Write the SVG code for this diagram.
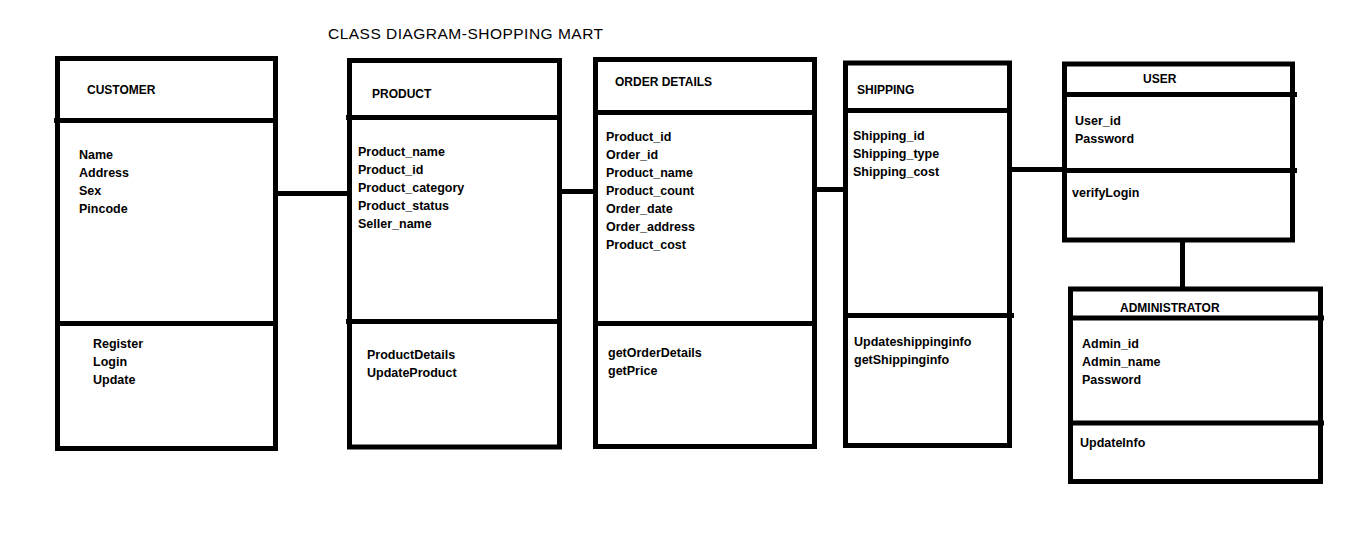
<svg xmlns="http://www.w3.org/2000/svg" width="1360" height="550" viewBox="0 0 1360 550">
<style>
.box{fill:#fff;stroke:#000;stroke-width:5}
.div{stroke:#000;stroke-width:5}
.con{stroke:#000;stroke-width:5;fill:none}
.nm{font-family:"Liberation Sans",Arial,sans-serif;font-weight:bold;font-size:12px;fill:#000}
.tx{font-family:"Liberation Sans",Arial,sans-serif;font-weight:bold;font-size:12.5px;fill:#000}
.ttl{font-family:"Liberation Sans",Arial,sans-serif;font-size:15.5px;fill:#000}
</style>
<rect width="1360" height="550" fill="#fff"/>
<text class="ttl" x="328" y="39" textLength="275">CLASS DIAGRAM-SHOPPING MART</text>

<g id="connectors">
<line class="con" x1="278" y1="193.5" x2="347" y2="193.5"/>
<line class="con" x1="562" y1="191.5" x2="595" y2="191.5"/>
<line class="con" x1="817" y1="189.5" x2="846" y2="189.5"/>
<line class="con" x1="1012" y1="169.5" x2="1072" y2="169.5"/>
<line class="con" x1="1182.5" y1="242" x2="1182.5" y2="289"/>
</g>

<g id="customer">
<rect class="box" x="57.5" y="58.5" width="218" height="390"/>
<line class="div" x1="54" y1="120.5" x2="278" y2="120.5"/>
<line class="div" x1="55" y1="323.5" x2="278" y2="323.5"/>
<text class="nm" x="87" y="94">CUSTOMER</text>
<text class="tx" x="79" y="159">Name</text>
<text class="tx" x="79" y="177">Address</text>
<text class="tx" x="79" y="195">Sex</text>
<text class="tx" x="79" y="213">Pincode</text>
<text class="tx" x="93" y="348">Register</text>
<text class="tx" x="93" y="366">Login</text>
<text class="tx" x="93" y="384">Update</text>
</g>

<g id="product">
<rect class="box" x="349.5" y="60.5" width="210" height="386.5"/>
<line class="div" x1="346" y1="117.5" x2="562" y2="117.5"/>
<line class="div" x1="346" y1="321.5" x2="562" y2="321.5"/>
<text class="nm" x="372" y="98">PRODUCT</text>
<text class="tx" x="358" y="156">Product_name</text>
<text class="tx" x="358" y="174">Product_id</text>
<text class="tx" x="358" y="192">Product_category</text>
<text class="tx" x="358" y="210">Product_status</text>
<text class="tx" x="358" y="228">Seller_name</text>
<text class="tx" x="367" y="359">ProductDetails</text>
<text class="tx" x="367" y="377">UpdateProduct</text>
</g>

<g id="order-details">
<rect class="box" x="595.5" y="59.5" width="219" height="387"/>
<line class="div" x1="595" y1="112.5" x2="815" y2="112.5"/>
<line class="div" x1="595" y1="323.5" x2="815" y2="323.5"/>
<text class="nm" x="615" y="86">ORDER DETAILS</text>
<text class="tx" x="606" y="141">Product_id</text>
<text class="tx" x="606" y="159">Order_id</text>
<text class="tx" x="606" y="177">Product_name</text>
<text class="tx" x="606" y="195">Product_count</text>
<text class="tx" x="606" y="213">Order_date</text>
<text class="tx" x="606" y="231">Order_address</text>
<text class="tx" x="606" y="249">Product_cost</text>
<text class="tx" x="608" y="357">getOrderDetails</text>
<text class="tx" x="608" y="375">getPrice</text>
</g>

<g id="shipping">
<rect class="box" x="845.5" y="63" width="164" height="382.5"/>
<line class="div" x1="845" y1="110.5" x2="1007" y2="110.5"/>
<line class="div" x1="845" y1="315.5" x2="1014" y2="315.5"/>
<text class="nm" x="857" y="94">SHIPPING</text>
<text class="tx" x="853" y="140">Shipping_id</text>
<text class="tx" x="853" y="158">Shipping_type</text>
<text class="tx" x="853" y="176">Shipping_cost</text>
<text class="tx" x="854" y="346">Updateshippinginfo</text>
<text class="tx" x="854" y="364">getShippinginfo</text>
</g>

<g id="user">
<rect class="box" x="1064.5" y="64" width="228" height="176"/>
<line class="div" x1="1064" y1="94.5" x2="1297" y2="94.5"/>
<line class="div" x1="1064" y1="170.5" x2="1297" y2="170.5"/>
<text class="nm" x="1143" y="83">USER</text>
<text class="tx" x="1075" y="125">User_id</text>
<text class="tx" x="1075" y="143">Password</text>
<text class="tx" x="1072" y="197">verifyLogin</text>
</g>

<g id="administrator">
<rect class="box" x="1070.5" y="289" width="250" height="192.5"/>
<line class="div" x1="1070" y1="318" x2="1324" y2="318"/>
<line class="div" x1="1070" y1="423" x2="1324" y2="423"/>
<text class="nm" x="1120" y="312">ADMINISTRATOR</text>
<text class="tx" x="1082" y="348">Admin_id</text>
<text class="tx" x="1082" y="366">Admin_name</text>
<text class="tx" x="1082" y="384">Password</text>
<text class="tx" x="1080" y="447">UpdateInfo</text>
</g>
</svg>
